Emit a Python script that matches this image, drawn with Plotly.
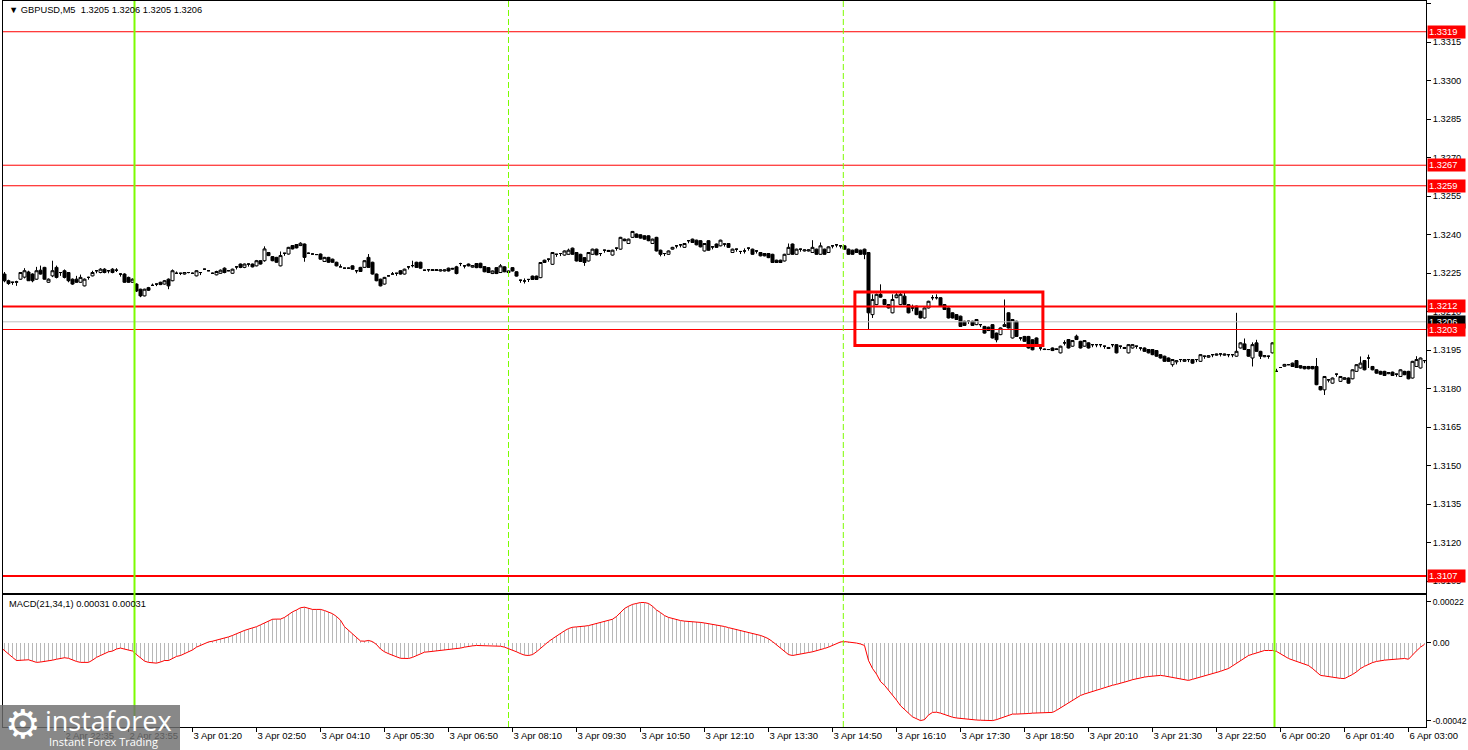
import plotly.graph_objects as go

# ---------------- data ----------------
opens = [
1.32239, 1.32246, 1.32220, 1.32214, 1.32214, 1.32226, 1.32234, 1.32254, 1.32246, 1.32226,
1.32261, 1.32272, 1.32214, 1.32239, 1.32272, 1.32252, 1.32259, 1.32252, 1.32226, 1.32226,
1.32214, 1.32200, 1.32233, 1.32239, 1.32259, 1.32252, 1.32265, 1.32259, 1.32265, 1.32261,
1.32246, 1.32246, 1.32233, 1.32214, 1.32207, 1.32187, 1.32161, 1.32193, 1.32202, 1.32207,
1.32214, 1.32207, 1.32226, 1.32220, 1.32249, 1.32249, 1.32246, 1.32252, 1.32249, 1.32239,
1.32252, 1.32265, 1.32259, 1.32249, 1.32243, 1.32249, 1.32269, 1.32259, 1.32249, 1.32274,
1.32285, 1.32272, 1.32285, 1.32285, 1.32278, 1.32298, 1.32298, 1.32330, 1.32314, 1.32311,
1.32278, 1.32327, 1.32324, 1.32357, 1.32361, 1.32357, 1.32363, 1.32327, 1.32324, 1.32322,
1.32324, 1.32295, 1.32311, 1.32304, 1.32292, 1.32274, 1.32269, 1.32269, 1.32278, 1.32259,
1.32272, 1.32272, 1.32311, 1.32292, 1.32246, 1.32226, 1.32207, 1.32239, 1.32246, 1.32249,
1.32259, 1.32246, 1.32274, 1.32279, 1.32292, 1.32292, 1.32261, 1.32263, 1.32260, 1.32260,
1.32258, 1.32258, 1.32269, 1.32265, 1.32274, 1.32287, 1.32278, 1.32285, 1.32273, 1.32287,
1.32288, 1.32275, 1.32271, 1.32248, 1.32271, 1.32252, 1.32274, 1.32252, 1.32271, 1.32255,
1.32222, 1.32219, 1.32225, 1.32238, 1.32238, 1.32232, 1.32300, 1.32304, 1.32284, 1.32323,
1.32326, 1.32320, 1.32323, 1.32347, 1.32330, 1.32323, 1.32310, 1.32297, 1.32323, 1.32343,
1.32326, 1.32339, 1.32334, 1.32320, 1.32347, 1.32343, 1.32382, 1.32365, 1.32389, 1.32402,
1.32399, 1.32395, 1.32395, 1.32365, 1.32389, 1.32339, 1.32326, 1.32323, 1.32343, 1.32356,
1.32360, 1.32350, 1.32376, 1.32382, 1.32378, 1.32376, 1.32336, 1.32376, 1.32352, 1.32363,
1.32356, 1.32363, 1.32365, 1.32330, 1.32343, 1.32334, 1.32336, 1.32347, 1.32343, 1.32336,
1.32330, 1.32326, 1.32326, 1.32323, 1.32300, 1.32300, 1.32297, 1.32323, 1.32363, 1.32323,
1.32343, 1.32336, 1.32336, 1.32330, 1.32343, 1.32323, 1.32343, 1.32330, 1.32356, 1.32360,
1.32356, 1.32356, 1.32343, 1.32339, 1.32343, 1.32339, 1.32343, 1.32330, 1.32088, 1.32127,
1.32167, 1.32147, 1.32127, 1.32095, 1.32154, 1.32127, 1.32160, 1.32127, 1.32114, 1.32121,
1.32101, 1.32075, 1.32114, 1.32154, 1.32154, 1.32154, 1.32127, 1.32114, 1.32095, 1.32088,
1.32082, 1.32062, 1.32062, 1.32062, 1.32049, 1.32049, 1.32042, 1.32039, 1.32049, 1.32016,
1.32010, 1.32042, 1.32095, 1.31997, 1.32062, 1.31997, 1.32003, 1.32003, 1.31990, 1.31997,
1.31958, 1.31954, 1.31952, 1.31958, 1.31952, 1.31939, 1.31978, 1.31991, 1.31965, 1.32004,
1.31984, 1.31965, 1.31978, 1.31971, 1.31971, 1.31971, 1.31965, 1.31960, 1.31971, 1.31971,
1.31965, 1.31956, 1.31939, 1.31958, 1.31965, 1.31958, 1.31958, 1.31952, 1.31952, 1.31948,
1.31932, 1.31926, 1.31919, 1.31893, 1.31904, 1.31913, 1.31906, 1.31913, 1.31913, 1.31913,
1.31906, 1.31926, 1.31922, 1.31932, 1.31930, 1.31935, 1.31930, 1.31932, 1.31932, 1.31926,
1.31958, 1.31974, 1.31952, 1.31919, 1.31978, 1.31945, 1.31924, 1.31926, 1.31939, 1.31867,
1.31882, 1.31887, 1.31893, 1.31899, 1.31909, 1.31889, 1.31886, 1.31886, 1.31886, 1.31886,
1.31808, 1.31795, 1.31834, 1.31821, 1.31856, 1.31828, 1.31836, 1.31841, 1.31838, 1.31867,
1.31880, 1.31909, 1.31919, 1.31886, 1.31873, 1.31867, 1.31867, 1.31858, 1.31864, 1.31856,
1.31847, 1.31867, 1.31867, 1.31841, 1.31886, 1.31880, 1.31909,
]
highs = [
1.32264, 1.32254, 1.32224, 1.32216, 1.32220, 1.32254, 1.32269, 1.32259, 1.32249, 1.32274,
1.32279, 1.32274, 1.32229, 1.32298, 1.32279, 1.32254, 1.32264, 1.32254, 1.32229, 1.32239,
1.32244, 1.32229, 1.32236, 1.32259, 1.32261, 1.32269, 1.32269, 1.32261, 1.32269, 1.32269,
1.32249, 1.32249, 1.32236, 1.32229, 1.32210, 1.32189, 1.32189, 1.32196, 1.32209, 1.32209,
1.32216, 1.32223, 1.32229, 1.32264, 1.32256, 1.32251, 1.32254, 1.32254, 1.32252, 1.32261,
1.32254, 1.32267, 1.32261, 1.32252, 1.32259, 1.32264, 1.32272, 1.32261, 1.32267, 1.32276,
1.32287, 1.32287, 1.32287, 1.32287, 1.32301, 1.32300, 1.32354, 1.32332, 1.32316, 1.32313,
1.32334, 1.32329, 1.32352, 1.32359, 1.32363, 1.32370, 1.32365, 1.32330, 1.32327, 1.32324,
1.32326, 1.32313, 1.32313, 1.32306, 1.32294, 1.32284, 1.32271, 1.32271, 1.32280, 1.32261,
1.32274, 1.32300, 1.32324, 1.32294, 1.32248, 1.32228, 1.32235, 1.32241, 1.32254, 1.32251,
1.32261, 1.32267, 1.32276, 1.32298, 1.32294, 1.32294, 1.32263, 1.32265, 1.32265, 1.32265,
1.32264, 1.32264, 1.32271, 1.32270, 1.32278, 1.32290, 1.32281, 1.32287, 1.32281, 1.32289,
1.32290, 1.32277, 1.32273, 1.32260, 1.32273, 1.32285, 1.32276, 1.32260, 1.32273, 1.32257,
1.32224, 1.32229, 1.32227, 1.32240, 1.32240, 1.32293, 1.32302, 1.32306, 1.32332, 1.32325,
1.32328, 1.32338, 1.32345, 1.32349, 1.32332, 1.32325, 1.32312, 1.32332, 1.32345, 1.32345,
1.32328, 1.32341, 1.32340, 1.32341, 1.32349, 1.32391, 1.32384, 1.32384, 1.32414, 1.32404,
1.32401, 1.32397, 1.32397, 1.32384, 1.32391, 1.32341, 1.32328, 1.32338, 1.32352, 1.32358,
1.32362, 1.32367, 1.32378, 1.32384, 1.32380, 1.32378, 1.32367, 1.32378, 1.32354, 1.32365,
1.32380, 1.32365, 1.32367, 1.32345, 1.32345, 1.32336, 1.32346, 1.32349, 1.32345, 1.32338,
1.32332, 1.32328, 1.32328, 1.32325, 1.32302, 1.32302, 1.32325, 1.32365, 1.32365, 1.32345,
1.32345, 1.32342, 1.32342, 1.32378, 1.32345, 1.32369, 1.32345, 1.32354, 1.32358, 1.32362,
1.32358, 1.32358, 1.32345, 1.32341, 1.32345, 1.32341, 1.32345, 1.32332, 1.32167, 1.32170,
1.32206, 1.32149, 1.32129, 1.32167, 1.32172, 1.32174, 1.32174, 1.32129, 1.32127, 1.32123,
1.32103, 1.32116, 1.32142, 1.32164, 1.32167, 1.32156, 1.32129, 1.32116, 1.32097, 1.32090,
1.32084, 1.32064, 1.32064, 1.32064, 1.32071, 1.32051, 1.32044, 1.32041, 1.32051, 1.32018,
1.32038, 1.32147, 1.32097, 1.32071, 1.32064, 1.31999, 1.32005, 1.32005, 1.31992, 1.31999,
1.31960, 1.31956, 1.31954, 1.31960, 1.31956, 1.31967, 1.31988, 1.31993, 1.31989, 1.32010,
1.31986, 1.31989, 1.31980, 1.31973, 1.31973, 1.31973, 1.31967, 1.31962, 1.31973, 1.31973,
1.31967, 1.31962, 1.31973, 1.31973, 1.31967, 1.31960, 1.31960, 1.31954, 1.31954, 1.31950,
1.31934, 1.31928, 1.31921, 1.31915, 1.31910, 1.31915, 1.31915, 1.31915, 1.31915, 1.31915,
1.31934, 1.31928, 1.31930, 1.31934, 1.31936, 1.31937, 1.31936, 1.31934, 1.31934, 1.32095,
1.31980, 1.31995, 1.31954, 1.31980, 1.31990, 1.31947, 1.31930, 1.31928, 1.31980, 1.31877,
1.31884, 1.31896, 1.31895, 1.31901, 1.31911, 1.31891, 1.31888, 1.31888, 1.31888, 1.31919,
1.31810, 1.31849, 1.31836, 1.31843, 1.31858, 1.31849, 1.31844, 1.31843, 1.31875, 1.31895,
1.31925, 1.31911, 1.31932, 1.31888, 1.31875, 1.31869, 1.31869, 1.31864, 1.31866, 1.31858,
1.31875, 1.31869, 1.31869, 1.31908, 1.31926, 1.31921, 1.31911,
]
lows = [
1.32234, 1.32214, 1.32204, 1.32204, 1.32200, 1.32224, 1.32229, 1.32219, 1.32214, 1.32224,
1.32244, 1.32224, 1.32212, 1.32234, 1.32229, 1.32239, 1.32229, 1.32214, 1.32204, 1.32212,
1.32212, 1.32198, 1.32224, 1.32237, 1.32249, 1.32249, 1.32249, 1.32249, 1.32249, 1.32254,
1.32236, 1.32212, 1.32212, 1.32212, 1.32176, 1.32156, 1.32159, 1.32180, 1.32202, 1.32199,
1.32203, 1.32205, 1.32187, 1.32218, 1.32249, 1.32242, 1.32244, 1.32249, 1.32247, 1.32237,
1.32242, 1.32263, 1.32257, 1.32247, 1.32241, 1.32247, 1.32249, 1.32257, 1.32247, 1.32264,
1.32269, 1.32269, 1.32275, 1.32272, 1.32276, 1.32283, 1.32294, 1.32316, 1.32296, 1.32290,
1.32276, 1.32317, 1.32322, 1.32342, 1.32346, 1.32355, 1.32294, 1.32325, 1.32322, 1.32320,
1.32302, 1.32293, 1.32290, 1.32290, 1.32276, 1.32274, 1.32267, 1.32267, 1.32263, 1.32249,
1.32254, 1.32270, 1.32270, 1.32244, 1.32218, 1.32198, 1.32205, 1.32237, 1.32246, 1.32239,
1.32244, 1.32244, 1.32264, 1.32272, 1.32270, 1.32267, 1.32259, 1.32255, 1.32258, 1.32258,
1.32256, 1.32256, 1.32256, 1.32263, 1.32245, 1.32277, 1.32268, 1.32276, 1.32271, 1.32269,
1.32269, 1.32253, 1.32250, 1.32246, 1.32246, 1.32250, 1.32253, 1.32250, 1.32256, 1.32236,
1.32212, 1.32209, 1.32215, 1.32223, 1.32223, 1.32230, 1.32289, 1.32294, 1.32282, 1.32313,
1.32316, 1.32318, 1.32321, 1.32321, 1.32295, 1.32293, 1.32278, 1.32295, 1.32321, 1.32319,
1.32316, 1.32329, 1.32332, 1.32318, 1.32337, 1.32341, 1.32374, 1.32363, 1.32387, 1.32387,
1.32384, 1.32380, 1.32374, 1.32363, 1.32334, 1.32315, 1.32316, 1.32321, 1.32341, 1.32346,
1.32350, 1.32348, 1.32366, 1.32367, 1.32358, 1.32350, 1.32334, 1.32337, 1.32342, 1.32348,
1.32354, 1.32353, 1.32348, 1.32328, 1.32333, 1.32324, 1.32326, 1.32337, 1.32321, 1.32326,
1.32315, 1.32315, 1.32308, 1.32289, 1.32289, 1.32289, 1.32295, 1.32321, 1.32321, 1.32321,
1.32333, 1.32334, 1.32334, 1.32328, 1.32321, 1.32321, 1.32321, 1.32328, 1.32346, 1.32350,
1.32346, 1.32341, 1.32321, 1.32321, 1.32328, 1.32321, 1.32304, 1.32030, 1.32075, 1.32125,
1.32154, 1.32125, 1.32112, 1.32093, 1.32152, 1.32125, 1.32125, 1.32093, 1.32101, 1.32086,
1.32073, 1.32073, 1.32112, 1.32144, 1.32147, 1.32119, 1.32106, 1.32073, 1.32073, 1.32067,
1.32040, 1.32044, 1.32052, 1.32044, 1.32047, 1.32039, 1.32014, 1.32024, 1.31995, 1.31980,
1.32008, 1.32040, 1.32034, 1.31995, 1.32001, 1.31987, 1.31982, 1.31956, 1.31949, 1.31962,
1.31948, 1.31950, 1.31950, 1.31946, 1.31950, 1.31937, 1.31968, 1.31956, 1.31963, 1.31989,
1.31956, 1.31963, 1.31956, 1.31961, 1.31961, 1.31961, 1.31955, 1.31954, 1.31961, 1.31937,
1.31955, 1.31954, 1.31937, 1.31956, 1.31955, 1.31948, 1.31943, 1.31937, 1.31930, 1.31924,
1.31917, 1.31904, 1.31904, 1.31885, 1.31894, 1.31903, 1.31904, 1.31903, 1.31897, 1.31903,
1.31904, 1.31916, 1.31920, 1.31922, 1.31928, 1.31925, 1.31928, 1.31922, 1.31922, 1.31924,
1.31956, 1.31950, 1.31924, 1.31886, 1.31943, 1.31915, 1.31922, 1.31916, 1.31937, 1.31867,
1.31880, 1.31885, 1.31891, 1.31884, 1.31880, 1.31878, 1.31875, 1.31875, 1.31875, 1.31813,
1.31793, 1.31775, 1.31824, 1.31819, 1.31846, 1.31826, 1.31834, 1.31819, 1.31836, 1.31865,
1.31878, 1.31871, 1.31880, 1.31871, 1.31858, 1.31854, 1.31849, 1.31856, 1.31849, 1.31846,
1.31845, 1.31852, 1.31836, 1.31839, 1.31884, 1.31878, 1.31899,
]
closes = [
1.32259, 1.32220, 1.32209, 1.32214, 1.32216, 1.32252, 1.32259, 1.32220, 1.32220, 1.32259,
1.32246, 1.32226, 1.32226, 1.32259, 1.32233, 1.32252, 1.32233, 1.32220, 1.32207, 1.32214,
1.32233, 1.32226, 1.32233, 1.32252, 1.32259, 1.32265, 1.32252, 1.32259, 1.32252, 1.32261,
1.32246, 1.32214, 1.32214, 1.32226, 1.32180, 1.32161, 1.32187, 1.32183, 1.32202, 1.32207,
1.32205, 1.32220, 1.32200, 1.32259, 1.32249, 1.32249, 1.32252, 1.32252, 1.32249, 1.32259,
1.32252, 1.32265, 1.32259, 1.32249, 1.32256, 1.32261, 1.32252, 1.32259, 1.32265, 1.32274,
1.32272, 1.32285, 1.32285, 1.32274, 1.32298, 1.32285, 1.32344, 1.32318, 1.32298, 1.32292,
1.32318, 1.32327, 1.32350, 1.32344, 1.32348, 1.32366, 1.32311, 1.32327, 1.32324, 1.32322,
1.32304, 1.32311, 1.32292, 1.32292, 1.32278, 1.32274, 1.32269, 1.32269, 1.32265, 1.32259,
1.32256, 1.32298, 1.32272, 1.32246, 1.32220, 1.32200, 1.32233, 1.32239, 1.32246, 1.32249,
1.32246, 1.32265, 1.32274, 1.32279, 1.32272, 1.32269, 1.32261, 1.32263, 1.32263, 1.32263,
1.32262, 1.32262, 1.32258, 1.32268, 1.32248, 1.32287, 1.32278, 1.32278, 1.32279, 1.32271,
1.32271, 1.32255, 1.32252, 1.32258, 1.32248, 1.32278, 1.32255, 1.32258, 1.32258, 1.32238,
1.32222, 1.32219, 1.32225, 1.32225, 1.32225, 1.32291, 1.32291, 1.32304, 1.32330, 1.32323,
1.32326, 1.32336, 1.32339, 1.32323, 1.32297, 1.32295, 1.32291, 1.32330, 1.32343, 1.32321,
1.32326, 1.32339, 1.32338, 1.32339, 1.32347, 1.32389, 1.32376, 1.32382, 1.32412, 1.32389,
1.32386, 1.32382, 1.32376, 1.32382, 1.32336, 1.32323, 1.32326, 1.32336, 1.32350, 1.32356,
1.32360, 1.32365, 1.32376, 1.32369, 1.32360, 1.32352, 1.32365, 1.32339, 1.32352, 1.32350,
1.32378, 1.32363, 1.32350, 1.32343, 1.32343, 1.32334, 1.32336, 1.32347, 1.32323, 1.32336,
1.32317, 1.32317, 1.32310, 1.32291, 1.32291, 1.32291, 1.32323, 1.32350, 1.32323, 1.32343,
1.32343, 1.32340, 1.32340, 1.32350, 1.32323, 1.32356, 1.32323, 1.32352, 1.32356, 1.32360,
1.32356, 1.32343, 1.32323, 1.32323, 1.32330, 1.32323, 1.32323, 1.32095, 1.32147, 1.32167,
1.32156, 1.32127, 1.32114, 1.32147, 1.32165, 1.32167, 1.32127, 1.32095, 1.32114, 1.32088,
1.32075, 1.32114, 1.32140, 1.32154, 1.32154, 1.32121, 1.32108, 1.32075, 1.32075, 1.32069,
1.32042, 1.32046, 1.32062, 1.32046, 1.32069, 1.32049, 1.32016, 1.32026, 1.31997, 1.31990,
1.32036, 1.32049, 1.32036, 1.32069, 1.32003, 1.31997, 1.31984, 1.31958, 1.31951, 1.31964,
1.31958, 1.31952, 1.31952, 1.31948, 1.31954, 1.31965, 1.31978, 1.31958, 1.31987, 1.31991,
1.31958, 1.31987, 1.31958, 1.31971, 1.31971, 1.31971, 1.31965, 1.31956, 1.31971, 1.31939,
1.31965, 1.31960, 1.31971, 1.31971, 1.31965, 1.31958, 1.31945, 1.31939, 1.31932, 1.31926,
1.31919, 1.31906, 1.31906, 1.31913, 1.31908, 1.31913, 1.31913, 1.31913, 1.31899, 1.31913,
1.31932, 1.31926, 1.31928, 1.31932, 1.31934, 1.31935, 1.31934, 1.31932, 1.31932, 1.31945,
1.31978, 1.31952, 1.31926, 1.31971, 1.31945, 1.31926, 1.31928, 1.31926, 1.31978, 1.31867,
1.31882, 1.31894, 1.31893, 1.31886, 1.31882, 1.31880, 1.31877, 1.31877, 1.31877, 1.31815,
1.31795, 1.31847, 1.31834, 1.31841, 1.31856, 1.31847, 1.31842, 1.31821, 1.31873, 1.31893,
1.31899, 1.31873, 1.31919, 1.31873, 1.31860, 1.31856, 1.31851, 1.31862, 1.31851, 1.31856,
1.31873, 1.31854, 1.31838, 1.31906, 1.31913, 1.31919, 1.31909,
]
macd = [
-2.5e-5, -4.5e-5, -6.1e-5, -8.0e-5, -9.7e-5, -9.7e-5, -9.5e-5, -9.3e-5, -10.0e-5, -10.7e-5,
-10.5e-5, -10.3e-5, -10.0e-5, -9.5e-5, -9.0e-5, -8.5e-5, -8.2e-5, -8.5e-5, -9.5e-5, -10.2e-5,
-10.7e-5, -10.7e-5, -10.7e-5, -9.5e-5, -8.0e-5, -7.0e-5, -6.0e-5, -5.0e-5, -4.6e-5, -3.5e-5,
-3.0e-5, -3.5e-5, -4.0e-5, -4.6e-5, -6.5e-5, -8.5e-5, -10.0e-5, -10.7e-5, -11.0e-5, -11.1e-5,
-10.5e-5, -9.7e-5, -9.7e-5, -8.5e-5, -7.5e-5, -7.0e-5, -6.0e-5, -5.0e-5, -4.0e-5, -2.5e-5,
-1.5e-5, -0.5e-5, 0.3e-5, 0.7e-5, 1.2e-5, 1.8e-5, 2.5e-5, 3.0e-5, 3.8e-5, 4.8e-5,
5.8e-5, 6.5e-5, 7.2e-5, 7.7e-5, 8.5e-5, 9.5e-5, 10.4e-5, 11.5e-5, 12.5e-5, 12.6e-5,
12.6e-5, 13.5e-5, 15.0e-5, 16.5e-5, 17.5e-5, 18.7e-5, 19.0e-5, 18.3e-5, 17.8e-5, 17.8e-5,
17.8e-5, 17.2e-5, 16.5e-5, 15.5e-5, 14.0e-5, 12.0e-5, 8.5e-5, 6.5e-5, 4.5e-5, 2.5e-5,
0.8e-5, 0.7e-5, 1.1e-5, 0.5e-5, -1.1e-5, -3.5e-5, -5.0e-5, -6.0e-5, -7.0e-5, -7.7e-5,
-8.5e-5, -8.6e-5, -8.6e-5, -8.0e-5, -7.0e-5, -5.8e-5, -5.2e-5, -5.0e-5, -4.8e-5, -4.5e-5,
-4.3e-5, -4.0e-5, -3.8e-5, -3.5e-5, -3.2e-5, -3.0e-5, -2.5e-5, -2.0e-5, -1.8e-5, -1.6e-5,
-1.6e-5, -1.6e-5, -1.6e-5, -1.6e-5, -1.8e-5, -2.0e-5, -2.5e-5, -3.2e-5, -4.0e-5, -5.0e-5,
-6.0e-5, -6.8e-5, -7.0e-5, -6.5e-5, -5.0e-5, -3.0e-5, -1.0e-5, 0.5e-5, 2.0e-5, 3.5e-5,
5.0e-5, 6.3e-5, 7.5e-5, 8.2e-5, 8.4e-5, 8.5e-5, 8.8e-5, 9.1e-5, 9.6e-5, 10.2e-5,
10.8e-5, 11.3e-5, 11.8e-5, 12.5e-5, 14.0e-5, 16.0e-5, 18.3e-5, 19.5e-5, 20.5e-5, 21.0e-5,
21.5e-5, 21.5e-5, 21.0e-5, 19.5e-5, 17.5e-5, 16.1e-5, 14.5e-5, 13.5e-5, 12.8e-5, 12.2e-5,
11.8e-5, 11.5e-5, 11.4e-5, 11.2e-5, 11.0e-5, 10.8e-5, 10.5e-5, 10.2e-5, 9.8e-5, 9.4e-5,
9.1e-5, 8.6e-5, 8.0e-5, 7.5e-5, 7.0e-5, 6.5e-5, 6.0e-5, 5.3e-5, 4.6e-5, 4.2e-5,
3.8e-5, 3.0e-5, 2.0e-5, 0.5e-5, -1.2e-5, -3.2e-5, -5.0e-5, -6.5e-5, -7.0e-5, -6.5e-5,
-6.0e-5, -5.6e-5, -5.4e-5, -5.0e-5, -4.5e-5, -4.0e-5, -3.2e-5, -2.5e-5, -1.5e-5, -0.5e-5,
0.3e-5, 0.5e-5, 0.3e-5, 0.0, -0.3e-5, -0.8e-5, -1.6e-5, -9.7e-5, -14.0e-5, -17.0e-5,
-21.0e-5, -23.0e-5, -25.5e-5, -28.0e-5, -31.0e-5, -34.0e-5, -36.0e-5, -38.0e-5, -40.0e-5, -41.0e-5,
-42.0e-5, -41.5e-5, -39.0e-5, -37.6e-5, -37.5e-5, -38.0e-5, -38.8e-5, -39.5e-5, -40.2e-5, -40.6e-5,
-40.9e-5, -41.2e-5, -41.4e-5, -41.6e-5, -41.7e-5, -41.8e-5, -42.0e-5, -42.0e-5, -42.0e-5, -41.5e-5,
-40.8e-5, -40.0e-5, -39.0e-5, -38.5e-5, -38.5e-5, -38.5e-5, -38.3e-5, -38.2e-5, -38.0e-5, -38.0e-5,
-38.0e-5, -38.0e-5, -37.8e-5, -37.6e-5, -36.5e-5, -35.2e-5, -34.0e-5, -32.6e-5, -31.2e-5, -29.8e-5,
-28.5e-5, -27.7e-5, -27.0e-5, -26.2e-5, -25.5e-5, -24.7e-5, -24.2e-5, -23.6e-5, -23.0e-5, -22.5e-5,
-22.0e-5, -21.4e-5, -20.7e-5, -20.0e-5, -19.4e-5, -18.8e-5, -18.6e-5, -18.3e-5, -18.0e-5, -17.8e-5,
-17.7e-5, -18.0e-5, -18.4e-5, -18.8e-5, -19.2e-5, -19.4e-5, -19.9e-5, -20.4e-5, -19.8e-5, -19.2e-5,
-18.6e-5, -18.1e-5, -17.7e-5, -17.0e-5, -16.2e-5, -15.5e-5, -14.7e-5, -14.0e-5, -12.6e-5, -11.2e-5,
-9.8e-5, -8.4e-5, -7.0e-5, -6.3e-5, -5.6e-5, -5.0e-5, -4.3e-5, -4.3e-5, -4.3e-5, -4.8e-5,
-6.0e-5, -7.5e-5, -8.6e-5, -9.4e-5, -10.2e-5, -11.0e-5, -11.7e-5, -12.4e-5, -14.0e-5, -16.0e-5,
-17.7e-5, -18.0e-5, -18.4e-5, -18.8e-5, -19.1e-5, -19.3e-5, -19.4e-5, -18.5e-5, -17.2e-5, -15.8e-5,
-14.0e-5, -12.8e-5, -11.7e-5, -10.8e-5, -10.2e-5, -9.7e-5, -9.5e-5, -9.3e-5, -9.2e-5, -9.0e-5,
-8.8e-5, -8.6e-5, -9.0e-5, -6.5e-5, -4.5e-5, -2.5e-5, -1.0e-5,
]
bars = list(range(len(closes)))

# time-axis labels (one every 16 bars)
time_labels = ["2 Apr 2026", "2 Apr 22:35", "2 Apr 23:55", "3 Apr 01:20", "3 Apr 02:50",
               "3 Apr 04:10", "3 Apr 05:30", "3 Apr 06:50", "3 Apr 08:10", "3 Apr 09:30",
               "3 Apr 10:50", "3 Apr 12:10", "3 Apr 13:30", "3 Apr 14:50", "3 Apr 16:10",
               "3 Apr 17:30", "3 Apr 18:50", "3 Apr 20:10", "3 Apr 21:30", "3 Apr 22:50",
               "6 Apr 00:20", "6 Apr 01:40", "6 Apr 03:00"]
time_label_bars = [16 * k for k in range(len(time_labels))]

price_ticks = [1.3330, 1.3315, 1.3300, 1.3285, 1.3270, 1.3255, 1.3240, 1.3225, 1.3210,
               1.3195, 1.3180, 1.3165, 1.3150, 1.3135, 1.3120, 1.3105]
macd_ticks = [0.00022, 0.0, -0.00042]
macd_tick_text = ["0.00022", "0.00", "-0.00042"]

thin_levels = [1.3319, 1.3267, 1.3259, 1.3203]
thick_levels = [1.3212, 1.3107]
current_price = 1.3206
green_bars = [33.5, 318.5]
dashed_bars = [127.0, 210.7]
box_bars = (213.6, 260.6)
box_prices = (1.31968, 1.32176)

# ---------------- figure geometry ----------------
W, H = 1468, 750
FONT = "Liberation Sans"
def fx(px): return px / W
def fy(py): return 1 - py / H

X_LEFT, X_RIGHT = 3, 1426
MAIN_TOP, MAIN_BOT = 1, 593
MACD_TOP, MACD_BOT = 595, 727
PX_PER_BAR = 4.0
X_OFF = 0.5
xr = [(X_LEFT - X_OFF) / PX_PER_BAR, (X_RIGHT - X_OFF) / PX_PER_BAR]
PX_PER_PRICE = 25670.0
yr = [1.3330 - (MAIN_BOT - 3.5) / PX_PER_PRICE, 1.3330 + (3.5 - MAIN_TOP) / PX_PER_PRICE]
M_PX = 185900.0
y2r = [-(MACD_BOT - 642.5) / M_PX, (642.5 - MACD_TOP) / M_PX]

fig = go.Figure()
fig.add_trace(go.Candlestick(
    x=bars, open=opens, high=highs, low=lows, close=closes,
    increasing=dict(line=dict(color="black", width=1), fillcolor="white"),
    decreasing=dict(line=dict(color="black", width=1), fillcolor="black"),
    whiskerwidth=0, hoverinfo="skip", showlegend=False, xaxis="x", yaxis="y"))
fig.add_trace(go.Bar(
    x=bars, y=macd, width=0.45, marker=dict(color="#B8B8B8", line=dict(width=0)),
    hoverinfo="skip", showlegend=False, xaxis="x2", yaxis="y2"))
fig.add_trace(go.Scatter(
    x=bars, y=macd, mode="lines", line=dict(color="#FF0000", width=1),
    hoverinfo="skip", showlegend=False, xaxis="x2", yaxis="y2"))

axis_common = dict(showgrid=False, zeroline=False, showline=True, linecolor="black",
                   linewidth=1, mirror=True, fixedrange=True)
fig.update_layout(
    width=W, height=H, margin=dict(l=0, r=0, t=0, b=0, pad=0, autoexpand=False),
    paper_bgcolor="white", plot_bgcolor="white", showlegend=False,
    font=dict(family=FONT, size=9, color="black"),
    bargap=0, boxgap=0.25, boxgroupgap=0,
    xaxis=dict(domain=[fx(X_LEFT), fx(X_RIGHT)], range=xr, anchor="y",
               showticklabels=False, ticks="", rangeslider=dict(visible=False), **axis_common),
    yaxis=dict(domain=[fy(MAIN_BOT), fy(MAIN_TOP)], range=yr, side="right", anchor="x",
               tickvals=price_ticks, ticktext=[f"{v:.4f}" for v in price_ticks],
               ticks="outside", ticklen=4, tickcolor="black",
               tickfont=dict(family=FONT, size=9.3, color="black"), **axis_common),
    xaxis2=dict(domain=[fx(X_LEFT), fx(X_RIGHT)], range=xr, anchor="y2",
                tickvals=time_label_bars, ticktext=time_labels, ticks="outside",
                ticklabelposition="outside right", ticklen=4, tickcolor="black",
                tickfont=dict(family=FONT, size=9.5, color="black"), **axis_common),
    yaxis2=dict(domain=[fy(MACD_BOT), fy(MACD_TOP)], range=y2r, side="right", anchor="x2",
                tickvals=macd_ticks, ticktext=macd_tick_text, ticks="outside", ticklen=4,
                tickcolor="black", tickfont=dict(family=FONT, size=8.6, color="black"),
                **axis_common),
)

shapes = []
# horizontal levels
for lv in thin_levels:
    shapes.append(dict(type="line", xref="paper", yref="y", x0=fx(X_LEFT), x1=fx(X_RIGHT),
                       y0=lv, y1=lv, line=dict(color="#FF0000", width=1)))
for lv in thick_levels:
    shapes.append(dict(type="line", xref="paper", yref="y", x0=fx(X_LEFT), x1=fx(X_RIGHT),
                       y0=lv, y1=lv, line=dict(color="#FF0000", width=2)))
shapes.append(dict(type="line", xref="paper", yref="y", x0=fx(X_LEFT), x1=fx(X_RIGHT),
                   y0=current_price, y1=current_price, line=dict(color="#C0C0C0", width=1)))
# vertical markers
for b in dashed_bars:
    shapes.append(dict(type="line", xref="x", yref="paper", x0=b, x1=b,
                       y0=fy(MACD_BOT), y1=fy(MAIN_TOP),
                       line=dict(color="#7CFC00", width=1, dash="6px,3px")))
for b in green_bars:
    shapes.append(dict(type="line", xref="x", yref="paper", x0=b, x1=b,
                       y0=fy(MACD_BOT), y1=fy(MAIN_TOP), line=dict(color="#7CFC00", width=2)))
# rectangle
shapes.append(dict(type="rect", xref="x", yref="y", x0=box_bars[0], x1=box_bars[1],
                   y0=box_prices[0], y1=box_prices[1], line=dict(color="#FF0000", width=3)))
# watermark box
shapes.append(dict(type="rect", xref="paper", yref="paper", x0=0, x1=fx(180),
                   y0=0, y1=fy(705), fillcolor="rgba(110,110,110,0.82)", line=dict(width=0),
                   layer="above"))
fig.update_layout(shapes=shapes)

ann = []
# title
ann.append(dict(xref="paper", yref="paper", x=fx(7), y=fy(10), xanchor="left", yanchor="middle",
                text="\u25BC GBPUSD,M5\u00a0\u00a01.3205 1.3206 1.3205 1.3206", showarrow=False,
                font=dict(family=FONT, size=9.3, color="black")))
ann.append(dict(xref="paper", yref="paper", x=fx(7), y=fy(604), xanchor="left", yanchor="middle",
                text="MACD(21,34,1) 0.00031 0.00031", showarrow=False,
                font=dict(family=FONT, size=9.3, color="black")))
# price tags
ann.append(dict(xref="paper", yref="y", x=fx(1427), y=current_price, xanchor="left",
                yanchor="middle", text=f"{current_price:.4f}", showarrow=False, bgcolor="black",
                font=dict(family=FONT, size=9.3, color="white"), borderpad=1, width=35,
                align="left"))
for lv in thin_levels + thick_levels:
    ann.append(dict(xref="paper", yref="y", x=fx(1427), y=lv, xanchor="left", yanchor="middle",
                    text=f"{lv:.4f}", showarrow=False, bgcolor="#FF0000",
                    font=dict(family=FONT, size=9.3, color="white"), borderpad=1, width=35,
                    align="left"))
# watermark text
ann.append(dict(xref="paper", yref="paper", x=fx(23), y=fy(724), xanchor="center",
                yanchor="middle", text="\u2699", showarrow=False,
                font=dict(family="DejaVu Sans", size=40, color="white")))
ann.append(dict(xref="paper", yref="paper", x=fx(43), y=fy(720), xanchor="left",
                yanchor="middle", text="instaforex", showarrow=False,
                font=dict(family="Open Sans", size=27, color="white")))
ann.append(dict(xref="paper", yref="paper", x=fx(47), y=fy(741), xanchor="left",
                yanchor="middle", text="Instant Forex Trading", showarrow=False,
                font=dict(family="Open Sans", size=11, color="white")))
fig.update_layout(annotations=ann)

fig.write_html(
    "out.html",
    config={"displayModeBar": False, "staticPlot": True},
    post_script="document.body.style.margin='0';document.body.style.padding='0';"
                "document.body.style.overflow='hidden';",
)
